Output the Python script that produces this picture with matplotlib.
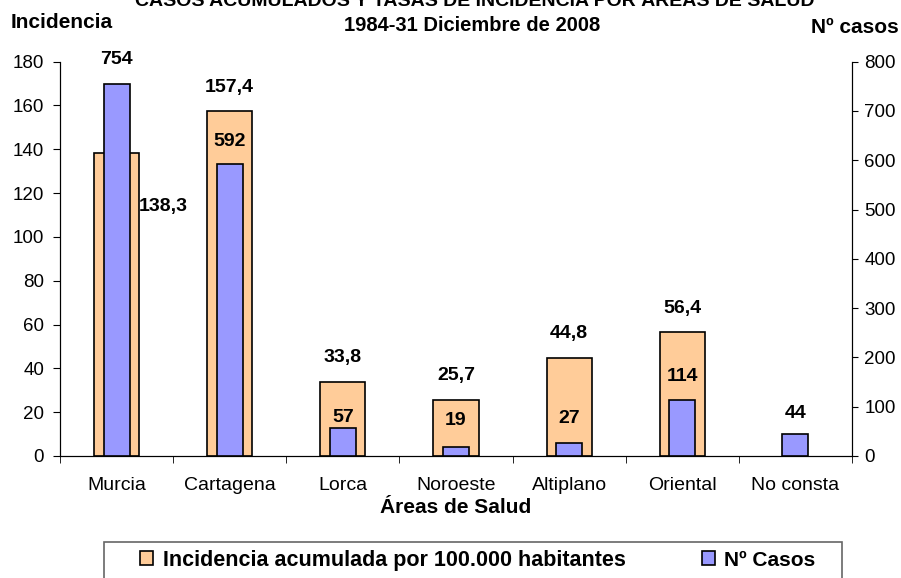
import numpy as np
import matplotlib
matplotlib.use("Agg")
import matplotlib.pyplot as plt
from matplotlib.patches import Rectangle

plt.rcParams['font.family'] = ['Liberation Sans', 'DejaVu Sans']

areas = ['Murcia', 'Cartagena', 'Lorca', 'Noroeste', 'Altiplano', 'Oriental', 'No consta']
incidencia = [138.3, 157.4, 33.8, 25.7, 44.8, 56.4, np.nan]
casos = [754, 592, 57, 19, 27, 114, 44]
inc_labels = ['138,3', '157,4', '33,8', '25,7', '44,8', '56,4', '']
# how far above each blue bar its label sits (in case units)
casos_off = [51, 46, 22, 52, 50, 48, 43]

fig = plt.figure(figsize=(9.01, 5.78), dpi=100)
ax = fig.add_axes([0.0666, 0.2111, 0.879, 0.6822])
ax2 = ax.twinx()

x = np.arange(len(areas))
b1 = ax.bar(x, incidencia, width=0.4, color='#FFCC99', edgecolor='black', linewidth=1.2,
            label='Incidencia acumulada por 100.000 habitantes', zorder=2)
b2 = ax2.bar(x, casos, width=0.23, color='#9999FF', edgecolor='black', linewidth=1.2,
             label='Nº Casos', zorder=3)

ax.set_xlim(-0.5, len(areas) - 0.5)
ax.set_ylim(0, 180)
ax2.set_ylim(0, 800)
ax.set_yticks(np.arange(0, 181, 20))
ax2.set_yticks(np.arange(0, 801, 100))
ax.set_xticks(x)
ax.set_xticklabels(areas)
ax.set_xticks(np.arange(-0.5, len(areas), 1), minor=True)
ax.tick_params(axis='x', which='major', length=0, pad=15, labelsize=14)
ax.tick_params(axis='x', which='minor', length=5, direction='out')
ax.tick_params(axis='y', labelsize=13.5, length=5, pad=6.5)
ax2.tick_params(axis='y', labelsize=13.5, length=4, pad=5)

for a in (ax, ax2):
    a.spines['top'].set_visible(False)
ax.set_xlabel('Áreas de Salud', fontsize=15, fontweight='bold', labelpad=3)

# labels for incidence
for i, (v, t) in enumerate(zip(incidencia, inc_labels)):
    if not t:
        continue
    if i == 0:
        ax.text(i + 0.41, 114, t, ha='center', va='center', fontsize=14, fontweight='bold')
    else:
        ax.text(i, v + 11, t, ha='center', va='center', fontsize=14, fontweight='bold')

# labels for cases
for i, (c, off) in enumerate(zip(casos, casos_off)):
    ax2.text(i, c + off, str(c), ha='center', va='center', fontsize=14, fontweight='bold')

fig.text(0.527, 0.9896, 'CASOS ACUMULADOS Y TASAS DE INCIDENCIA POR ÁREAS DE SALUD',
         ha='center', va='baseline', fontsize=14, fontweight='bold')
fig.text(0.524, 0.947, '1984-31 Diciembre de 2008', ha='center', va='baseline',
         fontsize=14.5, fontweight='bold')
fig.text(0.012, 0.952, 'Incidencia', ha='left', va='baseline', fontsize=15, fontweight='bold')
fig.text(0.998, 0.943, 'Nº casos', ha='right', va='baseline', fontsize=15, fontweight='bold')

# legend frame + the two entries
fig.patches.append(Rectangle((0.1154, -0.03), 0.819, 0.0923, transform=fig.transFigure,
                             facecolor='white', edgecolor='#666666', linewidth=1.2, zorder=0))
for h, xa in ((b1, 140 / 901), (b2, 702 / 901)):
    fig.legend(handles=[h], loc='center left', bbox_to_anchor=(xa, 0.031),
               prop={'size': 15.5 if h is b1 else 15, 'weight': 'bold'},
               handlelength=0.62, handleheight=0.62,
               handletextpad=0.45, frameon=False, borderpad=0, borderaxespad=0)

fig.savefig('out.png', dpi=100)
